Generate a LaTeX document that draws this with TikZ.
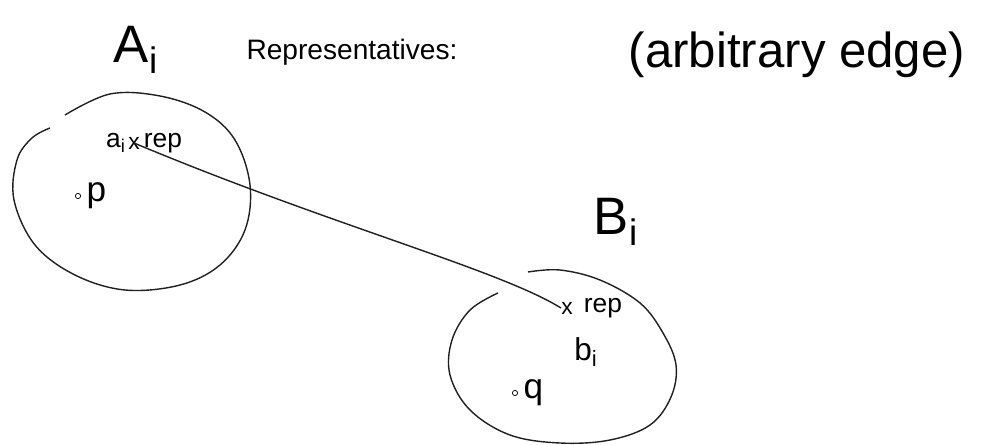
\documentclass[tikz,border=0pt]{standalone}
\usepackage{fontspec}
\setmainfont{Liberation Sans}
\usetikzlibrary{positioning}

\begin{document}
\begin{tikzpicture}[
        x=0.02cm, y=-0.02cm,
        title/.style={inner sep=0pt, font=\fontsize{30}{34}\selectfont},
        note/.style={inner sep=0pt, font=\fontsize{22}{26}\selectfont},
        small/.style={inner sep=1pt, font=\fontsize{15}{18}\selectfont},
        blob/.style={draw, thick, gray!25!black},
        edge/.style={thick, gray!25!black},
        cross/.style={inner sep=0pt, font=\fontsize{13}{15}\selectfont},
        pt/.style={circle, draw, inner sep=0pt, minimum size=3pt}
    ]
    \useasboundingbox (0,0) rectangle (982,445);

    % overschriften
    \node[title] (Ai) at (136,50) {A\textsubscript{i}};
    \node[note, font=\fontsize{16}{20}\selectfont] (reps) at (352,52) {Representatives:};
    \node[note, font=\fontsize{28}{32}\selectfont] (arb) at (797,55) {(arbitrary edge)};
    \node[title] (Bi) at (616,222) {B\textsubscript{i}};

    % menge A
    \draw[blob] plot[smooth, tension=0.6] coordinates {(65,115) (110,94) (160,96) (205,112)
        (235,140) (250,185) (245,230) (220,265) (180,285) (125,290) (75,275) (35,245)
        (14,200) (17,160) (32,138) (50,128)};
    \node[cross] (repA) at (134,143) {x};
    \node[small, left=0pt of repA] (ai) {a\textsubscript{i}};
    \node[small, right=1pt of repA] (repAl) {rep};
    \node[pt] (p) at (78,196) {};
    \node[small, right=2pt of p, font=\fontsize{20}{24}\selectfont] (plab) {p};

    % menge B
    \draw[blob] plot[smooth, tension=0.6] coordinates {(528,272) (560,270) (600,280)
        (640,303) (663,333) (676,365) (671,397) (650,425) (610,440) (560,443) (510,435)
        (470,410) (450,375) (452,340) (470,310) (498,293)};
    \node[cross] (repB) at (567,308) {x};
    \node[small, right=5pt of repB] (repBl) {rep};
    \node[small, font=\fontsize{18}{22}\selectfont] (bi) at (586,352) {b\textsubscript{i}};
    \node[pt] (q) at (515,393) {};
    \node[small, right=2pt of q, font=\fontsize{20}{24}\selectfont] (qlab) {q};

    % kante
    \draw[edge] (repA.center) .. controls (330,225) and (500,270) .. (repB.west);
\end{tikzpicture}
\end{document}
